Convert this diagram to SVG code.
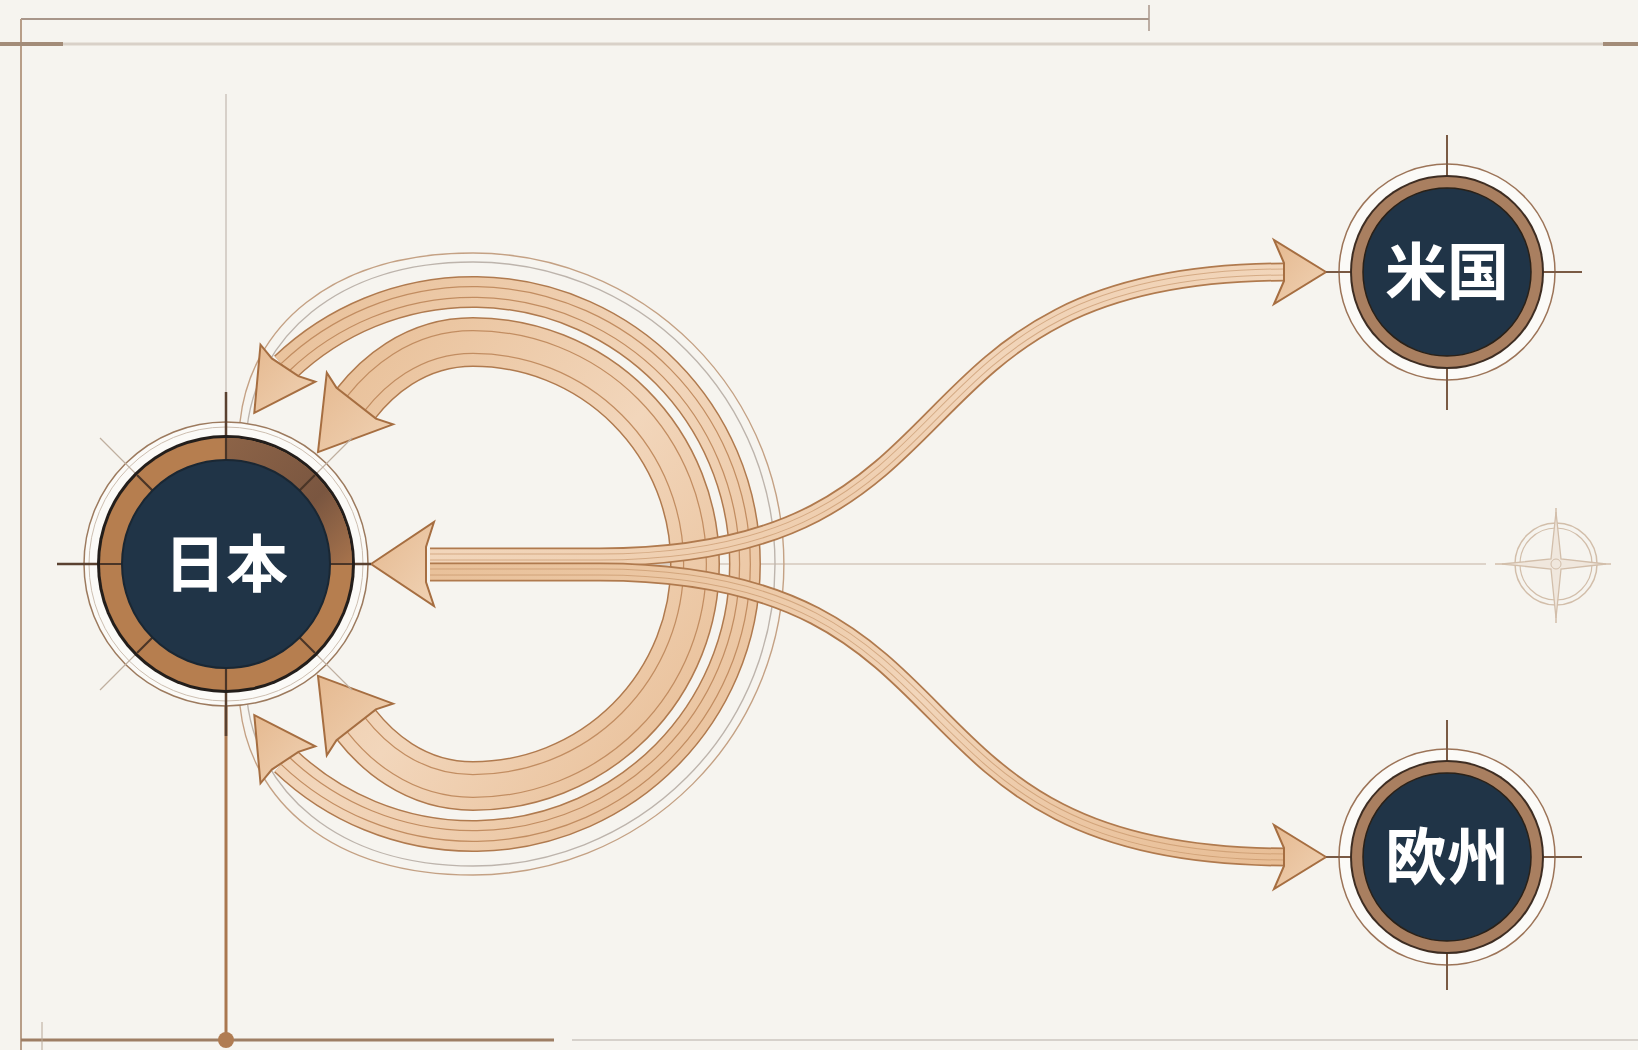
<svg xmlns="http://www.w3.org/2000/svg" width="1638" height="1050" viewBox="0 0 1638 1050">
<defs>
<style>
.edge{fill:none;stroke:#B07A4E;stroke-linecap:butt}
.fill{fill:none;stroke:url(#bandGrad);stroke-linecap:butt}
.mid{fill:none;stroke:#C28D61;stroke-linecap:butt}
.head{fill:url(#headGrad);stroke:#A66E41;stroke-width:2;stroke-linejoin:miter}
.thin{fill:none;stroke-width:1.4}
.label{font-family:"Noto Sans CJK JP","Noto Sans CJK SC",sans-serif;font-weight:700;font-size:62px;fill:#FFFFFF;text-anchor:middle}
.tick{stroke:#5A4130;stroke-width:2.5}
.faint{stroke:#BFAF9F;stroke-width:1.2}
.sep{stroke:#4A3527;stroke-width:2.2}
</style>
<linearGradient id="bandGrad" x1="0" y1="0" x2="1" y2="1">
<stop offset="0" stop-color="#E9C19A"/>
<stop offset="0.5" stop-color="#F2D6BB"/>
<stop offset="1" stop-color="#E8BE96"/>
</linearGradient>
<linearGradient id="headGrad" x1="0" y1="0" x2="1" y2="1">
<stop offset="0" stop-color="#E5B990"/>
<stop offset="1" stop-color="#F0D2B4"/>
</linearGradient>
<linearGradient id="ringDark" x1="0" y1="0" x2="1" y2="1">
<stop offset="0" stop-color="#8C6347"/>
<stop offset="0.6" stop-color="#7A5640"/>
<stop offset="1" stop-color="#A7734C"/>
</linearGradient>
</defs>
<rect width="1638" height="1050" fill="#F6F4EF"/>
<g id="frame">
<line x1="21" y1="19" x2="1149" y2="19" stroke="#A8968A" stroke-width="2"/>
<line x1="1149" y1="5" x2="1149" y2="31" stroke="#A8968A" stroke-width="1.5"/>
<line x1="21" y1="19" x2="21" y2="1050" stroke="#B89E88" stroke-width="2"/>
<line x1="0" y1="44" x2="1638" y2="44" stroke="#D9D1C8" stroke-width="3"/>
<line x1="0" y1="44" x2="63" y2="44" stroke="#A38C78" stroke-width="4"/>
<line x1="1603" y1="44" x2="1638" y2="44" stroke="#A38C78" stroke-width="4"/>
<line x1="21" y1="1040" x2="554" y2="1040" stroke="#9E7E64" stroke-width="3"/>
<line x1="572" y1="1040" x2="1638" y2="1040" stroke="#D6D1CB" stroke-width="2"/>
<line x1="42" y1="1022" x2="42" y2="1050" stroke="#B8A898" stroke-width="1"/>
<line x1="226" y1="94" x2="226" y2="400" stroke="#CCC4BC" stroke-width="1.5"/>
<line x1="226" y1="690" x2="226" y2="1040" stroke="#A9774F" stroke-width="3"/>
<circle cx="226" cy="1040" r="8" fill="#B07C52"/>
<line x1="640" y1="564" x2="1486" y2="564" stroke="#DDD3C9" stroke-width="2"/>
</g>
<g id="compass" fill="none" stroke="#D2BEAA">
<circle cx="1556" cy="564" r="41" stroke-width="1.5"/>
<circle cx="1556" cy="564" r="36" stroke-width="1.2"/>
<line x1="1556" y1="508" x2="1556" y2="623" stroke-width="1.5"/>
<line x1="1495" y1="564" x2="1611" y2="564" stroke-width="1.5"/>
<path d="M1556 512 L1561 559 L1606 564 L1561 569 L1556 618 L1551 569 L1502 564 L1551 559 Z" fill="#F0E7DD" stroke-width="1.3"/>
<circle cx="1556" cy="564" r="5" stroke-width="1"/>
</g>
<g id="connectors">
<path class="thin" stroke="#C4A184" d="M 240 422 C 250 328, 330 253, 473 253 A 311 311 0 0 1 473 875 C 330 875, 250 800, 240 706"/>
<path class="thin" stroke="#BDB4AC" d="M 247 428 C 257 340, 334 262, 473 262 A 302 302 0 0 1 473 866 C 334 866, 257 788, 247 700"/>
<path class="edge" stroke-width="32" d="M 285.1 367.3 A 272 272 0 1 1 285.1 760.7"/>
<path class="fill" stroke-width="29" d="M 285.1 367.3 A 272 272 0 1 1 285.1 760.7"/>
<path class="mid" stroke-width="12" d="M 285.1 367.3 A 272 272 0 1 1 285.1 760.7"/>
<path class="fill" stroke-width="9.5" d="M 285.1 367.3 A 272 272 0 1 1 285.1 760.7"/>
<polygon class="head" points="254.3,412.9 315.3,381.7 298.4,376.2 271.8,358.4 260.5,344.7"/>
<polygon class="head" points="254.3,715.1 315.3,746.3 298.4,751.8 271.8,769.6 260.5,783.3"/>
<path class="edge" stroke-width="50" d="M 356.2 403.2 C 374.7 379.6, 413 342, 473 342 A 222 222 0 0 1 473 786 C 413 786, 374.7 748.4, 356.2 724.8"/>
<path class="fill" stroke-width="47" d="M 356.2 403.2 C 374.7 379.6, 413 342, 473 342 A 222 222 0 0 1 473 786 C 413 786, 374.7 748.4, 356.2 724.8"/>
<path class="mid" stroke-width="24" d="M 356.2 403.2 C 374.7 379.6, 413 342, 473 342 A 222 222 0 0 1 473 786 C 413 786, 374.7 748.4, 356.2 724.8"/>
<path class="fill" stroke-width="21.5" d="M 356.2 403.2 C 374.7 379.6, 413 342, 473 342 A 222 222 0 0 1 473 786 C 413 786, 374.7 748.4, 356.2 724.8"/>
<polygon class="head" points="318,452.1 393,424.4 375.9,418.6 336.5,387.8 326.8,372.6"/>
<polygon class="head" points="318,675.9 393,703.6 375.9,709.4 336.5,740.2 326.8,755.4"/>
<path class="edge" stroke-width="19" d="M 430 557 L 600 557 C 996 557 874 272 1286 272"/>
<path class="fill" stroke-width="15.5" d="M 430 557 L 600 557 C 996 557 874 272 1286 272"/>
<path class="mid" stroke-width="7" opacity="0.6" d="M 430 557 L 600 557 C 996 557 874 272 1286 272"/>
<path class="fill" stroke-width="5" d="M 430 557 L 600 557 C 996 557 874 272 1286 272"/>
<path class="edge" stroke-width="19" d="M 430 572 L 600 572 C 996 572 874 857 1286 857"/>
<path class="fill" stroke-width="15.5" d="M 430 572 L 600 572 C 996 572 874 857 1286 857"/>
<path class="mid" stroke-width="7" opacity="0.6" d="M 430 572 L 600 572 C 996 572 874 857 1286 857"/>
<path class="fill" stroke-width="5" d="M 430 572 L 600 572 C 996 572 874 857 1286 857"/>
<polygon class="head" points="1326,272 1274,240 1284,263 1284,281 1274,304"/>
<polygon class="head" points="1326,857 1274,825 1284,848 1284,866 1274,889"/>
<polygon class="head" points="371,564 434,522 426,547 426,582 434,606"/>
</g>
<g id="node-japan">
<circle cx="226" cy="564" r="142" fill="#FBFAF7" stroke="#9C7A5E" stroke-width="1.5"/>
<circle cx="226" cy="564" r="137" fill="none" stroke="#CDBFB1" stroke-width="1"/>
<line class="faint" x1="100" y1="438" x2="352" y2="690"/>
<line class="faint" x1="352" y1="438" x2="100" y2="690"/>
<line class="tick" x1="226" y1="392" x2="226" y2="736"/>
<line class="tick" x1="57" y1="564" x2="371" y2="564"/>
<circle cx="226" cy="564" r="129" fill="#231E1B"/>
<circle cx="226" cy="564" r="126" fill="#B67E4F"/>
<path d="M 226 438 A 126 126 0 0 1 352 564 L 330 564 A 104 104 0 0 0 226 460 Z" fill="url(#ringDark)"/>
<line class="sep" x1="226" y1="438" x2="226" y2="690"/>
<line class="sep" x1="100" y1="564" x2="352" y2="564"/>
<line class="sep" x1="137" y1="475" x2="315" y2="653"/>
<line class="sep" x1="315" y1="475" x2="137" y2="653"/>
<circle cx="226" cy="564" r="104" fill="#203447" stroke="#1A2733" stroke-width="2"/>
<text class="label" x="226" y="587">日本</text>
</g>
<g id="node-usa">
<circle cx="1447" cy="272" r="108" fill="#FBFAF7" stroke="#9C7458" stroke-width="1.5"/>
<line x1="1447" y1="135" x2="1447" y2="410" stroke="#7A5A44" stroke-width="2"/>
<line x1="1326" y1="272" x2="1582" y2="272" stroke="#7A5A44" stroke-width="2"/>
<circle cx="1447" cy="272" r="97" fill="#3E2D22"/>
<circle cx="1447" cy="272" r="95" fill="#A97F60"/>
<circle cx="1447" cy="272" r="84" fill="#203447" stroke="#2A2118" stroke-width="1.5"/>
<text class="label" x="1447" y="295">米国</text>
</g>
<g id="node-europe">
<circle cx="1447" cy="857" r="108" fill="#FBFAF7" stroke="#9C7458" stroke-width="1.5"/>
<line x1="1447" y1="720" x2="1447" y2="990" stroke="#7A5A44" stroke-width="2"/>
<line x1="1326" y1="857" x2="1582" y2="857" stroke="#7A5A44" stroke-width="2"/>
<circle cx="1447" cy="857" r="97" fill="#3E2D22"/>
<circle cx="1447" cy="857" r="95" fill="#A97F60"/>
<circle cx="1447" cy="857" r="84" fill="#203447" stroke="#2A2118" stroke-width="1.5"/>
<text class="label" x="1447" y="880">欧州</text>
</g>
</svg>
